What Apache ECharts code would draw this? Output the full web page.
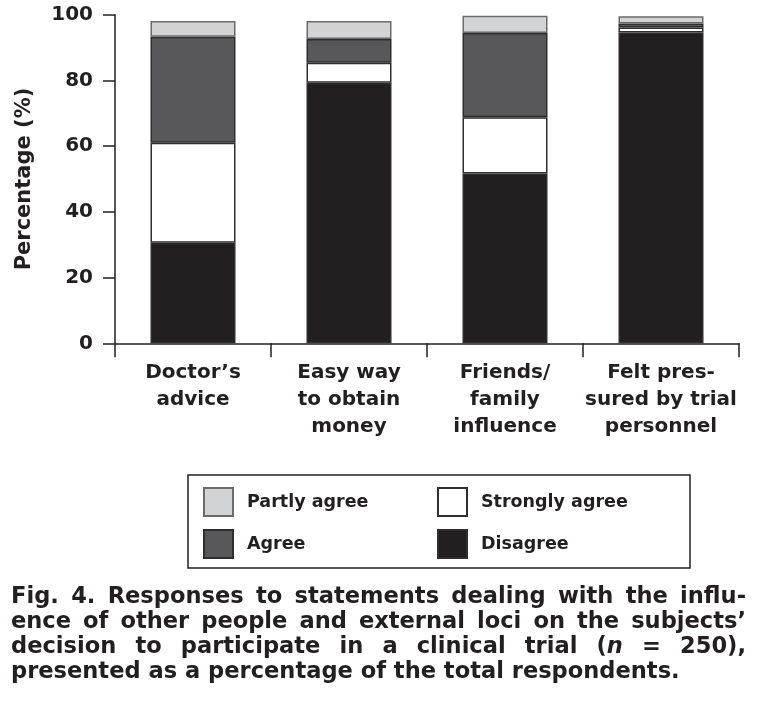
<!DOCTYPE html>
<html>
<head>
<meta charset="utf-8">
<script src="https://cdn.jsdelivr.net/npm/echarts@6/dist/echarts.min.js"></script>
<style>
html,body{margin:0;padding:0;background:#fff;}
#chart{width:761px;height:712px;}
</style>
</head>
<body>
<div id="chart"></div>
<script>
// ---- data ----
var categories = ['Doctor\u2019s\nadvice', 'Easy way\nto obtain\nmoney', 'Friends/\nfamily\ninfluence', 'Felt pres-\nsured by trial\npersonnel'];
var disagree      = [30.6, 79.3, 51.7, 94.6];
var stronglyAgree = [30.4, 6.1, 17.1, 1.5];
var agree         = [32.3, 7.2, 25.6, 1.2];
var partlyAgree   = [4.8, 5.5, 5.3, 2.2];
var yTicks = [0, 20, 40, 60, 80, 100];
var captionLines = [
  'Fig. 4. Responses to statements dealing with the influ-',
  'ence of other people and external loci on the subjects\u2019',
  'decision to participate in a clinical trial (*n* = 250),',
  'presented as a percentage of the total respondents.'
];

var FONT = '"DejaVu Sans", "Liberation Sans", sans-serif';
var INK = '#231f20';
var chart = echarts.init(document.getElementById('chart'), null, {renderer: 'canvas'});

// caption layout (justified lines)
var cv = document.createElement('canvas').getContext('2d');
function fontStr(size, italic) { return (italic ? 'italic ' : '') + 'bold ' + size + 'px ' + FONT; }
function measure(tok, size) {
  var parts = tok.split('*'), w = 0;
  for (var i = 0; i < parts.length; i++) {
    if (!parts[i]) continue;
    cv.font = fontStr(size, i % 2 === 1);
    w += cv.measureText(parts[i]).width;
  }
  return w;
}
var baseSize = 24;
var last = captionLines[3].replace(/\*/g, '');
cv.font = fontStr(baseSize, false);
var capSize = baseSize * 669 / cv.measureText(last).width;
var left = 11, right = 746, lineY0 = 597, lineStep = 25;
var graphics = [];
captionLines.forEach(function (line, li) {
  var words = line.split(' ');
  var widths = words.map(function (w) { return measure(w, capSize); });
  var total = widths.reduce(function (a, b) { return a + b; }, 0);
  var gap;
  if (li < 3) gap = (right - left - total) / (words.length - 1);
  else { cv.font = fontStr(capSize, false); gap = cv.measureText(' ').width; }
  var x = left;
  words.forEach(function (w, wi) {
    var parts = w.split('*');
    var rich = {}, txt = '';
    parts.forEach(function (p, pi) {
      if (!p) return;
      var key = 's' + pi;
      rich[key] = {font: fontStr(capSize, pi % 2 === 1), fill: INK};
      txt += '{' + key + '|' + p + '}';
    });
    graphics.push({
      type: 'text', left: x, top: lineY0 + li * lineStep - capSize * 0.5, silent: true,
      style: {text: txt, rich: rich, font: fontStr(capSize, false), fill: INK}
    });
    x += widths[wi] + gap;
  });
});
// legend box
graphics.push({
  type: 'rect', shape: {x: 188, y: 475, width: 502, height: 93},
  style: {fill: 'none', stroke: INK, lineWidth: 1.5}, silent: true
});

function bar(name, data, color, bc) {
  return {
    name: name, type: 'bar', stack: 'total', data: data, barWidth: 85,
    itemStyle: {color: color, borderColor: bc || '#2e2e2e', borderWidth: 1.5},
    emphasis: {disabled: true}
  };
}

var legendCommon = {
  orient: 'vertical', itemWidth: 29, itemHeight: 28, itemGap: 12, icon: 'rect',
  selectedMode: false, padding: 0,
  textStyle: {fontFamily: FONT, fontWeight: 'bold', fontSize: 17.5, color: INK, padding: [0, 0, 0, 9]}
};

chart.setOption({
  animation: false,
  backgroundColor: '#fff',
  grid: {left: 115, right: 22, top: 14.7, bottom: 368.7, containLabel: false},
  legend: [
    Object.assign({left: 203, top: 487, data: ['Partly agree', 'Agree']}, legendCommon),
    Object.assign({left: 437, top: 487, data: ['Strongly agree', 'Disagree']}, legendCommon)
  ],
  xAxis: {
    type: 'category', data: categories,
    axisLine: {lineStyle: {color: INK, width: 1.5}},
    axisTick: {show: true, length: 14, lineStyle: {color: INK, width: 1.5}},
    axisLabel: {interval: 0, margin: 16, fontFamily: FONT, fontWeight: 'bold', fontSize: 20,
      lineHeight: 27, color: INK}
  },
  yAxis: {
    type: 'value', min: yTicks[0], max: yTicks[yTicks.length - 1], interval: 20,
    name: 'Percentage (%)', nameLocation: 'middle', nameGap: 80, nameRotate: 90,
    nameTextStyle: {fontFamily: FONT, fontWeight: 'bold', fontSize: 21, color: INK},
    axisLine: {show: true, lineStyle: {color: INK, width: 1.5}},
    axisTick: {show: true, length: 12, lineStyle: {color: INK, width: 1.5}},
    splitLine: {show: false},
    axisLabel: {margin: 22, fontFamily: FONT, fontWeight: 'bold', fontSize: 20, color: INK}
  },
  series: [
    bar('Disagree', disagree, INK),
    bar('Strongly agree', stronglyAgree, '#ffffff'),
    bar('Agree', agree, '#58585a'),
    bar('Partly agree', partlyAgree, '#d1d3d4', '#6b6b6b')
  ],
  graphic: graphics
});
</script>
</body>
</html>
